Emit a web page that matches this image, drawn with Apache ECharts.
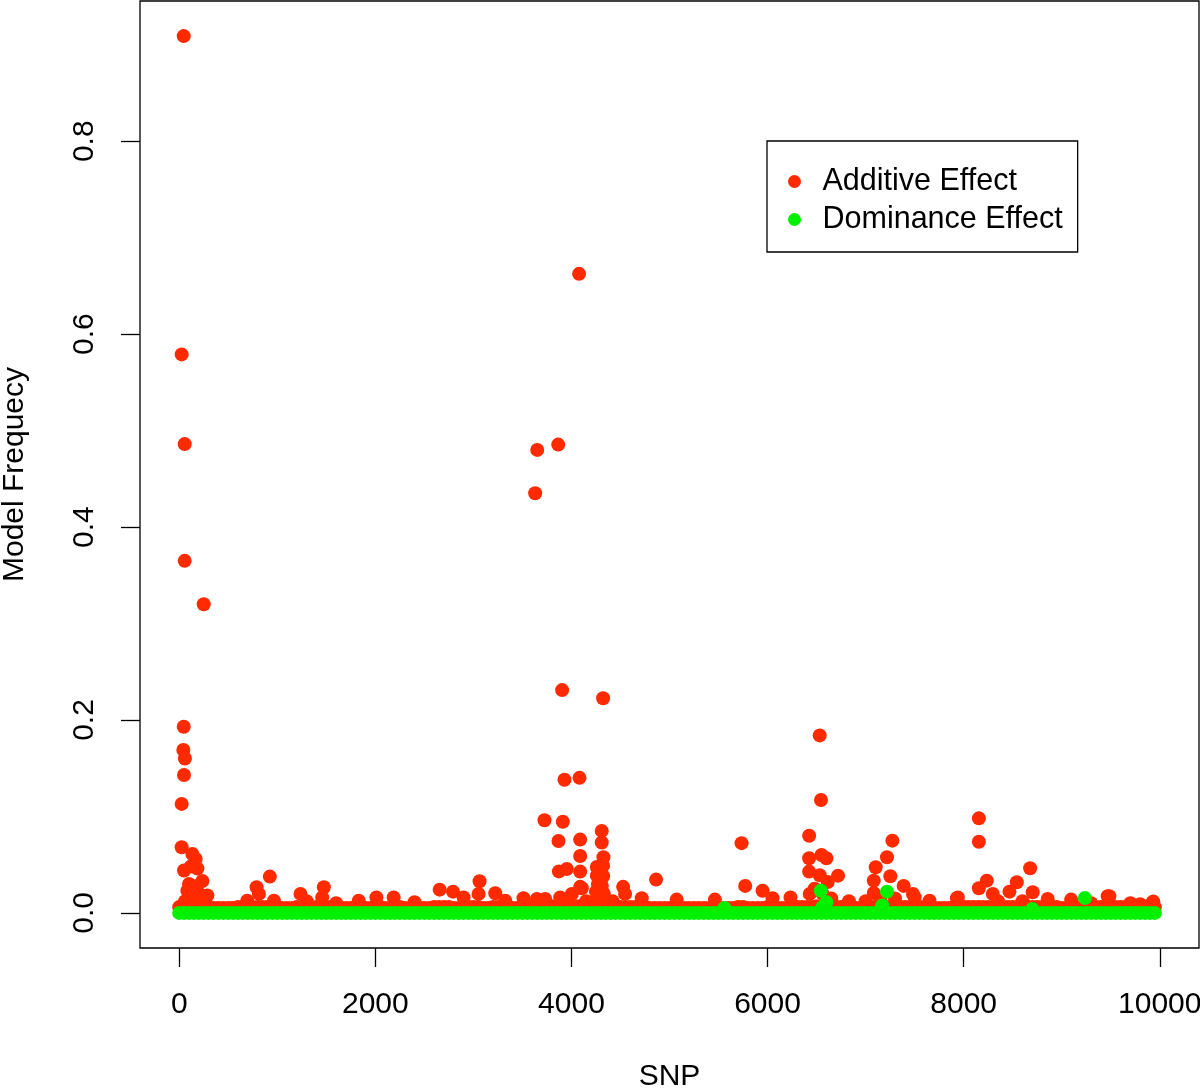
<!DOCTYPE html>
<html>
<head>
<meta charset="utf-8">
<script src="https://cdn.jsdelivr.net/npm/echarts@6/dist/echarts.min.js"></script>
<style>html,body{margin:0;padding:0;background:#fff;}#chart{width:1200px;height:1088px;}</style>
</head>
<body>
<div id="chart"></div>
<script>
// ---- data ----
const seriesNames = ['Additive Effect', 'Dominance Effect'];
const xTicks = [0, 2000, 4000, 6000, 8000, 10000];
const yTicks = [0, 0.2, 0.4, 0.6, 0.8];

// SNP positions of the continuous low band
const bandSNP = [0,50,100,150,200,250,300,350,400,450,500,550,600,650,700,750,800,850,900,950,
  1000,1050,1100,1150,1200,1250,1300,1350,1400,1450,1500,1550,1600,1650,1700,1750,1800,1850,1900,1950,
  2000,2050,2100,2150,2200,2250,2300,2350,2400,2450,2500,2550,2600,2650,2700,2750,2800,2850,2900,2950,
  3000,3050,3100,3150,3200,3250,3300,3350,3400,3450,3500,3550,3600,3650,3700,3750,3800,3850,3900,3950,
  4000,4050,4100,4150,4200,4250,4300,4350,4400,4450,4500,4550,4600,4650,4700,4750,4800,4850,4900,4950,
  5000,5050,5100,5150,5200,5250,5300,5350,5400,5450,5500,5550,5600,5650,5700,5750,5800,5850,5900,5950,
  6000,6050,6100,6150,6200,6250,6300,6350,6400,6450,6500,6550,6600,6650,6700,6750,6800,6850,6900,6950,
  7000,7050,7100,7150,7200,7250,7300,7350,7400,7450,7500,7550,7600,7650,7700,7750,7800,7850,7900,7950,
  8000,8050,8100,8150,8200,8250,8300,8350,8400,8450,8500,8550,8600,8650,8700,8750,8800,8850,8900,8950,
  9000,9050,9100,9150,9200,9250,9300,9350,9400,9450,9500,9550,9600,9650,9700,9750,9800,9850,9900,9950];
// additive effect values along the low band
const additiveBand = [0.006,0.006,0.007,0.006,0.006,0.006,0.006,0.005,0.005,0.005,0.005,0.005,0.006,0.006,0.006,0.006,0.006,0.006,0.006,0.006,
  0.006,0.005,0.005,0.005,0.006,0.006,0.005,0.005,0.006,0.006,0.006,0.006,0.005,0.005,0.005,0.005,0.006,0.006,0.005,0.005,
  0.006,0.006,0.005,0.005,0.006,0.006,0.005,0.005,0.005,0.005,0.005,0.005,0.006,0.006,0.006,0.006,0.005,0.005,0.006,0.006,
  0.006,0.006,0.005,0.005,0.006,0.006,0.006,0.006,0.005,0.005,0.006,0.006,0.006,0.006,0.006,0.006,0.007,0.007,0.007,0.007,
  0.007,0.007,0.007,0.007,0.007,0.007,0.007,0.007,0.006,0.006,0.006,0.006,0.006,0.006,0.006,0.006,0.005,0.005,0.005,0.005,
  0.005,0.005,0.005,0.005,0.005,0.005,0.005,0.005,0.005,0.005,0.005,0.005,0.005,0.005,0.006,0.006,0.005,0.005,0.005,0.005,
  0.006,0.006,0.005,0.005,0.005,0.005,0.006,0.006,0.006,0.006,0.007,0.007,0.006,0.006,0.006,0.006,0.006,0.006,0.005,0.005,
  0.006,0.006,0.006,0.006,0.006,0.006,0.006,0.006,0.006,0.006,0.006,0.006,0.006,0.006,0.005,0.005,0.005,0.005,0.006,0.006,
  0.006,0.006,0.006,0.006,0.006,0.006,0.006,0.006,0.006,0.006,0.006,0.006,0.006,0.006,0.006,0.006,0.006,0.006,0.006,0.006,
  0.005,0.005,0.006,0.006,0.005,0.005,0.006,0.006,0.006,0.006,0.006,0.006,0.006,0.006,0.006,0.006,0.005,0.005,0.006,0.006];
// dominance effect values along the low band
const dominanceBand = [0,0,0,0,0,0,0,0,0,0,0,0,0,0,0,0,0,0,0,0,
  0,0,0,0,0,0,0,0,0,0,0,0,0,0,0,0,0,0,0,0,
  0,0,0,0,0,0,0,0,0,0,0,0,0,0,0,0,0,0,0,0,
  0,0,0,0,0,0,0,0,0,0,0,0,0,0,0,0,0,0,0,0,
  0,0,0,0,0,0,0,0,0,0,0,0,0,0,0,0,0,0,0,0,
  0,0,0,0,0,0,0,0,0,0,0,0,0,0,0,0,0,0,0,0,
  0,0,0,0,0,0,0,0,0,0,0,0,0,0,0,0,0,0,0,0,
  0,0,0,0,0,0,0,0,0,0,0,0,0,0,0,0,0,0,0,0,
  0,0,0,0,0,0,0,0,0,0,0,0,0,0,0,0,0,0,0,0,
  0,0,0,0,0,0,0,0,0,0,0,0,0,0,0,0,0,0,0,0];

// additive effect SNPs above the band [SNP, frequency]
const additivePeaks = [
  [46,0.909],[25,0.579],[56,0.486],[56,0.365],[250,0.320],[46,0.193],[42,0.169],[58,0.160],[49,0.143],[25,0.113],
  [25,0.068],[134,0.061],[168,0.056],[49,0.044],[117,0.048],[185,0.046],[236,0.033],[83,0.023],[287,0.018],
  [100,0.030],[150,0.025],[200,0.020],[120,0.015],[60,0.012],[180,0.028],[220,0.014],[260,0.012],
  [924,0.0376],[789,0.0266],[813,0.0197],[1237,0.0197],[1475,0.0266],[1458,0.016],[966,0.0127],[694,0.0127],
  [3063,0.0328],[2656,0.0241],[2792,0.022],[3223,0.0204],[3053,0.0197],[2900,0.016],[2011,0.016],[2187,0.016],
  [1831,0.0127],[3511,0.0152],[3648,0.0145],[3325,0.0127],[1300,0.012],[1600,0.010],[2400,0.011],
  [4078,0.6625],[3651,0.480],[3865,0.4855],[3630,0.435],[3905,0.231],[4323,0.2226],[3929,0.138],[4082,0.140],
  [3725,0.096],[3912,0.0945],[3868,0.0745],[4089,0.076],[4309,0.085],[4309,0.073],[4089,0.059],[4326,0.0577],
  [3872,0.043],[3953,0.0455],[4089,0.0428],[4259,0.0476],[4259,0.0386],[4323,0.049],[4323,0.038],[4270,0.030],
  [4310,0.028],[4250,0.022],[4330,0.020],[4280,0.015],[4300,0.010],[4240,0.012],[4089,0.027],[4106,0.0256],
  [4527,0.027],[4547,0.0197],[4863,0.0345],[4717,0.0152],[5073,0.0138],[5463,0.0138],[3885,0.016],[4004,0.0197],
  [3732,0.0145],[4150,0.012],[4420,0.012],[3950,0.013],
  [5735,0.0723],[5772,0.028],[5949,0.023],[6051,0.0152],[6234,0.016],[6532,0.184],[6545,0.117],[6424,0.080],
  [6424,0.0566],[6550,0.060],[6600,0.0566],[6424,0.0428],[6532,0.039],[6719,0.0386],[6614,0.032],[6430,0.0197],
  [6480,0.025],[6560,0.020],[6650,0.015],[6830,0.012],[7000,0.012],
  [7273,0.0749],[7218,0.0577],[7103,0.0473],[7252,0.038],[7083,0.0334],[7388,0.028],[7083,0.0207],[7483,0.0197],
  [7500,0.0162],[7652,0.0127],[7300,0.015],[7150,0.013],
  [8155,0.098],[8155,0.0738],[8678,0.0463],[8236,0.0334],[8542,0.0318],[8155,0.0256],[8467,0.022],[8297,0.0197],
  [8704,0.0214],[7931,0.0152],[7941,0.016],[8857,0.0145],[9096,0.0138],[9469,0.0173],[9486,0.0173],[9934,0.0117],
  [9927,0.011],[8350,0.012],[8600,0.012],[9300,0.010],[9700,0.010],[9800,0.009]
];
// dominance effect SNPs above the band [SNP, frequency]
const dominancePeaks = [
  [6543,0.023],[7218,0.022],[9236,0.0155],[6600,0.011],[6560,0.006],[7170,0.0076],[5560,0.005],[8700,0.004]
];

// ---- chart ----
const additiveData = bandSNP.map((s, i) => [s, additiveBand[i]]).concat(additivePeaks);
const dominanceData = bandSNP.map((s, i) => [s, dominanceBand[i]]).concat(dominancePeaks);

const FONT = '"Liberation Sans", Arial, Helvetica, sans-serif';
const chart = echarts.init(document.getElementById('chart'), null, {renderer: 'canvas'});
chart.setOption({
  animation: false,
  backgroundColor: '#ffffff',
  textStyle: {fontFamily: FONT},
  grid: {left: 140, top: 1, right: 1, bottom: 140, containLabel: false, outerBoundsMode: 'none',
    show: true, borderColor: '#000', borderWidth: 1.3, backgroundColor: 'transparent'},
  legend: {
    data: seriesNames,
    orient: 'vertical',
    left: 767, top: 141,
    padding: [25, 15, 17, 21],
    itemWidth: 46, itemHeight: 13, itemGap: 7,
    icon: 'circle',
    borderColor: '#000', borderWidth: 1.3,
    textStyle: {fontSize: 30.5, color: '#000', fontFamily: FONT}
  },
  xAxis: {
    type: 'value', min: -400, max: 10400,
    name: 'SNP', nameLocation: 'middle', nameGap: 114,
    nameTextStyle: {fontSize: 30, color: '#000', fontFamily: FONT},
    splitLine: {show: false},
    axisLine: {show: false, onZero: false},
    axisTick: {show: true, length: 19, customValues: xTicks, lineStyle: {color: '#000', width: 1.3}},
    axisLabel: {customValues: xTicks, fontSize: 30, color: '#000', margin: 42, fontFamily: FONT,
      formatter: v => String(v)}
  },
  yAxis: {
    type: 'value', min: -0.0364, max: 0.9454,
    name: 'Model Frequecy', nameLocation: 'middle', nameGap: 110, nameRotate: 90,
    nameTextStyle: {fontSize: 30, color: '#000', fontFamily: FONT},
    splitLine: {show: false},
    axisLine: {show: false, onZero: false},
    axisTick: {show: true, length: 19, customValues: yTicks, lineStyle: {color: '#000', width: 1.3}},
    axisLabel: {customValues: yTicks, rotate: 90, fontSize: 30, color: '#000', margin: 40, fontFamily: FONT,
      formatter: v => Number(v).toFixed(1)}
  },
  series: [
    {name: seriesNames[0], type: 'scatter', symbol: 'circle', symbolSize: 14, data: additiveData,
      itemStyle: {color: '#ff2a00', opacity: 1}},
    {name: seriesNames[1], type: 'scatter', symbol: 'circle', symbolSize: 14, data: dominanceData,
      itemStyle: {color: '#00f000', opacity: 1}}
  ]
});
</script>
</body>
</html>
